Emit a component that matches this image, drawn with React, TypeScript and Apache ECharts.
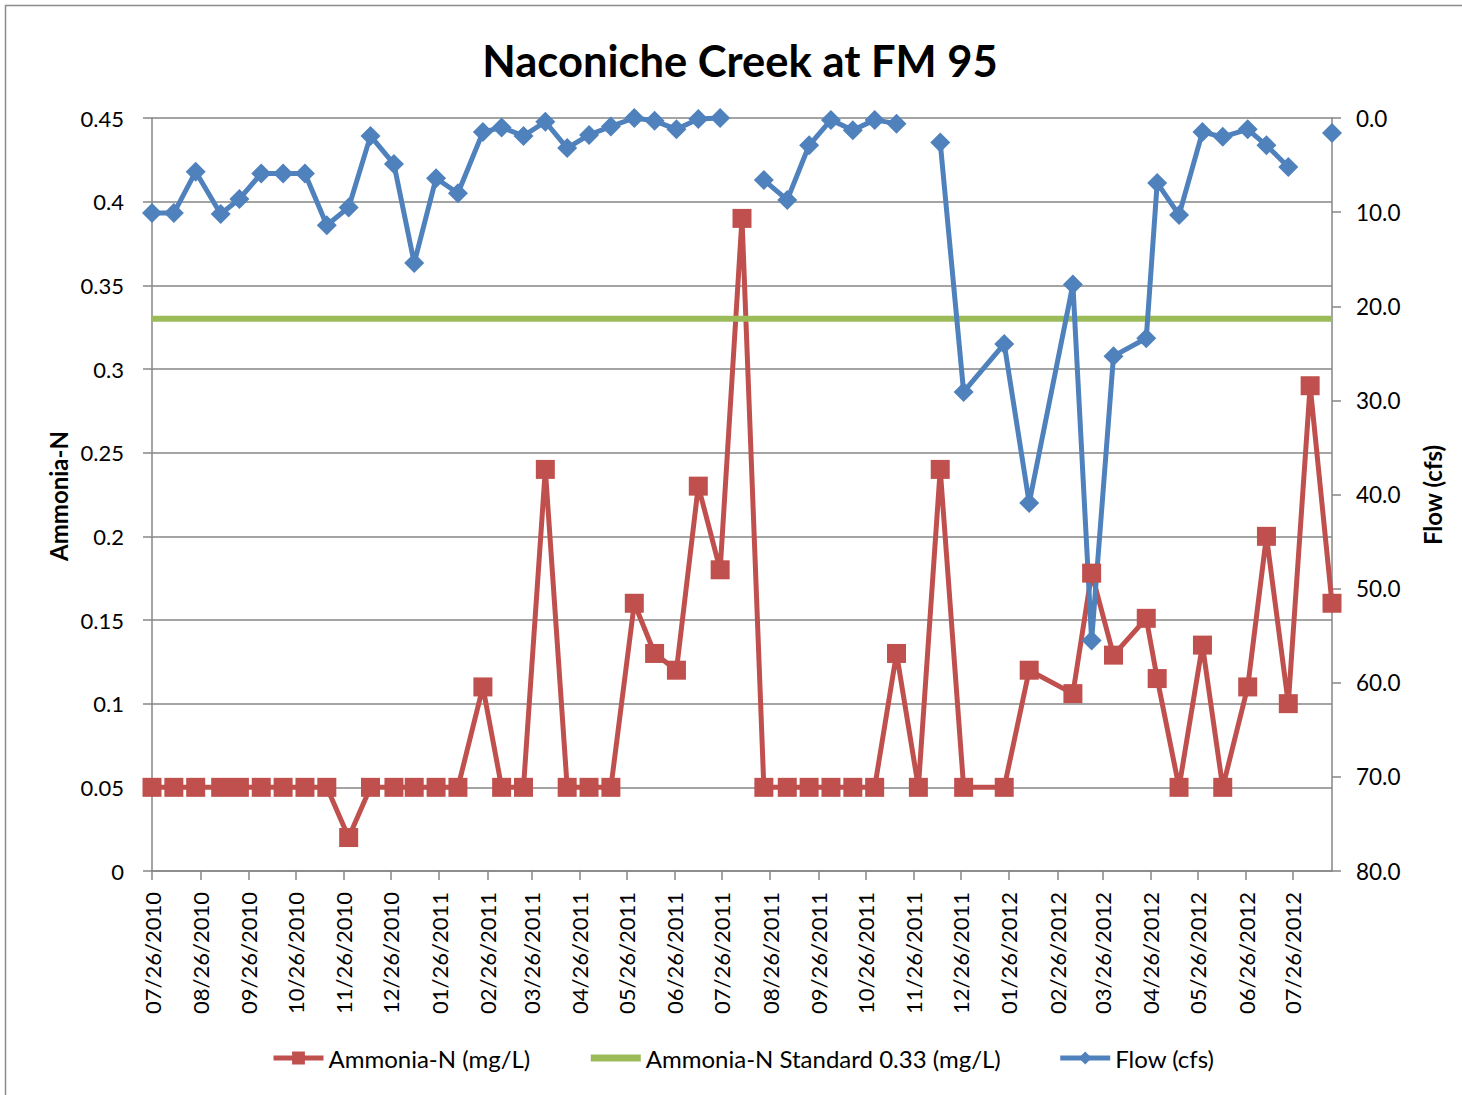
import React, { useEffect, useRef } from "react";
import * as echarts from "echarts";

// ---- Data ----
const sampleDates: string[] = [
  "2010-07-26", "2010-08-09", "2010-08-23", "2010-09-08", "2010-09-20", "2010-10-04",
  "2010-10-18", "2010-11-01", "2010-11-15", "2010-11-29", "2010-12-13", "2010-12-28",
  "2011-01-10", "2011-01-24", "2011-02-07", "2011-02-23", "2011-03-07", "2011-03-21",
  "2011-04-04", "2011-04-18", "2011-05-02", "2011-05-16", "2011-05-31", "2011-06-13",
  "2011-06-27", "2011-07-11", "2011-07-25", "2011-08-08", "2011-08-22", "2011-09-06",
  "2011-09-20", "2011-10-04", "2011-10-18", "2011-11-01", "2011-11-15", "2011-11-29",
  "2011-12-13", "2011-12-28", "2012-01-23", "2012-02-08", "2012-03-07", "2012-03-19",
  "2012-04-02", "2012-04-23", "2012-04-30", "2012-05-14", "2012-05-29", "2012-06-11",
  "2012-06-27", "2012-07-09", "2012-07-23", "2012-08-06", "2012-08-20",
];

const ammoniaN: number[] = [
  0.05, 0.05, 0.05, 0.05, 0.05, 0.05,
  0.05, 0.05, 0.05, 0.02, 0.05, 0.05,
  0.05, 0.05, 0.05, 0.11, 0.05, 0.05,
  0.24, 0.05, 0.05, 0.05, 0.16, 0.13,
  0.12, 0.23, 0.18, 0.39, 0.05, 0.05,
  0.05, 0.05, 0.05, 0.05, 0.13, 0.05,
  0.24, 0.05, 0.05, 0.12, 0.106, 0.178,
  0.129, 0.151, 0.115, 0.05, 0.135, 0.05,
  0.11, 0.2, 0.1, 0.29, 0.16,
];

const flowCfs: (number | null)[] = [
  10.1, 10.1, 5.7, 10.2, 8.6, 5.9,
  5.9, 5.9, 11.4, 9.5, 1.9, 4.9,
  15.4, 6.4, 8.0, 1.5, 1.0, 1.9,
  0.4, 3.2, 1.8, 0.9, 0.0, 0.3,
  1.2, 0.1, 0.0, null, 6.6, 8.7,
  2.9, 0.2, 1.3, 0.2, 0.6, null,
  2.6, 29.1, 24.0, 40.9, 17.7, 55.5,
  25.3, 23.4, 6.9, 10.3, 1.5, 2.0,
  1.2, 2.9, 5.2, null, 1.6,
];

const standardLevel = 0.33;

const dateTickLabels: string[] = [
  "07/26/2010", "08/26/2010", "09/26/2010", "10/26/2010", "11/26/2010", "12/26/2010",
  "01/26/2011", "02/26/2011", "03/26/2011", "04/26/2011", "05/26/2011", "06/26/2011",
  "07/26/2011", "08/26/2011", "09/26/2011", "10/26/2011", "11/26/2011", "12/26/2011",
  "01/26/2012", "02/26/2012", "03/26/2012", "04/26/2012", "05/26/2012", "06/26/2012",
  "07/26/2012",
];

const seriesNames = ["Ammonia-N (mg/L)", "Ammonia-N Standard 0.33 (mg/L)", "Flow (cfs)"];

// ---- helpers ----
const isoToDay = (iso: string) => {
  const [y, m, d] = iso.split("-").map(Number);
  return Math.round(Date.UTC(y, m - 1, d) / 86400000);
};
const labelToDay = (lbl: string) => {
  const [m, d, y] = lbl.split("/").map(Number);
  return Math.round(Date.UTC(y, m - 1, d) / 86400000);
};

const FONT = "Lato, 'Open Sans', sans-serif";
const GRAY = "#868686";
const RED = "#C0504D";
const GREEN = "#9BBB59";
const BLUE = "#4F81BD";

export default function App() {
  const ref = useRef<HTMLDivElement>(null);

  useEffect(() => {
    if (!ref.current) return;
    const chart = echarts.init(ref.current, undefined, { renderer: "svg" });

    const days = sampleDates.map(isoToDay);
    const tickDays = dateTickLabels.map(labelToDay);
    const labelMap: Record<number, string> = {};
    dateTickLabels.forEach((l, i) => (labelMap[tickDays[i]] = l));

    const option: echarts.EChartsOption = {
      animation: false,
      backgroundColor: "#ffffff",
      textStyle: { fontFamily: FONT },
      grid: { left: 152, right: 130, top: 118, bottom: 224, containLabel: false },
      graphic: [
        {
          type: "rect",
          shape: { x: 5.5, y: 5.5, width: 1470, height: 1100 },
          style: { fill: "none", stroke: "#8c8c8c", lineWidth: 1.5 },
          silent: true,
        },
        {
          type: "text",
          x: 740,
          y: 60,
          style: {
            text: "Naconiche Creek at FM 95",
            font: `bold 43.5px ${FONT}`,
            fill: "#000",
            textAlign: "center",
            textVerticalAlign: "middle",
          },
        },
        {
          type: "text",
          x: 58,
          y: 496,
          rotation: Math.PI / 2,
          style: {
            text: "Ammonia-N",
            font: `bold 24px ${FONT}`,
            fill: "#000",
            textAlign: "center",
            textVerticalAlign: "middle",
          },
        },
        {
          type: "text",
          x: 1432,
          y: 495,
          rotation: Math.PI / 2,
          style: {
            text: "Flow (cfs)",
            font: `bold 24px ${FONT}`,
            fill: "#000",
            textAlign: "center",
            textVerticalAlign: "middle",
          },
        },
      ],
      legend: {
        left: 266,
        top: 1041,
        itemWidth: 50,
        itemHeight: 16,
        itemGap: 57,
        data: [
          { name: seriesNames[0], lineStyle: { width: 5, color: RED } },
          {
            name: seriesNames[1],
            lineStyle: { width: 7, color: GREEN },
            itemStyle: { opacity: 0 },
          },
          { name: seriesNames[2], lineStyle: { width: 5, color: BLUE } },
        ],
        textStyle: { fontSize: 24, color: "#000", fontFamily: FONT },
      },
      xAxis: {
        type: "value",
        min: days[0],
        max: days[days.length - 1],
        axisLine: { show: true, onZero: false, lineStyle: { color: GRAY, width: 1.5 } },
        axisTick: {
          show: true,
          customValues: tickDays,
          length: 9,
          lineStyle: { color: GRAY, width: 1.5 },
        },
        axisLabel: {
          customValues: tickDays,
          rotate: 90,
          margin: 21,
          fontSize: 22,
          color: "#000",
          fontFamily: FONT,
          formatter: (v: number) => labelMap[Math.round(v)] ?? "",
        },
        splitLine: { show: false },
      },
      yAxis: [
        {
          type: "value",
          position: "left",
          min: 0,
          max: 0.45,
          interval: 0.05,
          axisLine: { show: true, lineStyle: { color: GRAY, width: 1.5 } },
          axisTick: { show: true, length: 9, lineStyle: { color: GRAY, width: 1.5 } },
          axisLabel: { margin: 28, fontSize: 22, color: "#000", fontFamily: FONT },
          splitLine: { show: true, lineStyle: { color: GRAY, width: 1.5 } },
        },
        {
          type: "value",
          position: "right",
          min: 0,
          max: 80,
          interval: 10,
          inverse: true,
          axisLine: { show: true, lineStyle: { color: GRAY, width: 1.5 } },
          axisTick: { show: true, length: 9, lineStyle: { color: GRAY, width: 1.5 } },
          axisLabel: {
            margin: 24,
            fontSize: 22.5,
            color: "#000",
            fontFamily: FONT,
            formatter: (v: number) => v.toFixed(1),
          },
          splitLine: { show: false },
        },
      ],
      series: [
        {
          name: seriesNames[0],
          type: "line",
          yAxisIndex: 0,
          data: days.map((d, i) => [d, ammoniaN[i]]),
          symbol: "rect",
          symbolSize: 19,
          itemStyle: { color: RED },
          lineStyle: { color: RED, width: 5 },
          clip: false,
        },
        {
          name: seriesNames[1],
          type: "line",
          yAxisIndex: 0,
          data: days.map((d) => [d, standardLevel]),
          symbol: "none",
          itemStyle: { color: GREEN },
          lineStyle: { color: GREEN, width: 6 },
          clip: false,
        },
        {
          name: seriesNames[2],
          type: "line",
          yAxisIndex: 1,
          data: days.map((d, i) => [d, flowCfs[i] === null ? "-" : flowCfs[i]]),
          symbol: "diamond",
          symbolSize: 20,
          connectNulls: false,
          itemStyle: { color: BLUE },
          lineStyle: { color: BLUE, width: 5 },
          clip: false,
        },
      ],
    };

    chart.setOption(option);
    return () => chart.dispose();
  }, []);

  return (
    <div
      ref={ref}
      style={{ position: "absolute", left: 0, top: 0, width: 1462, height: 1095, background: "#fff" }}
    />
  );
}
